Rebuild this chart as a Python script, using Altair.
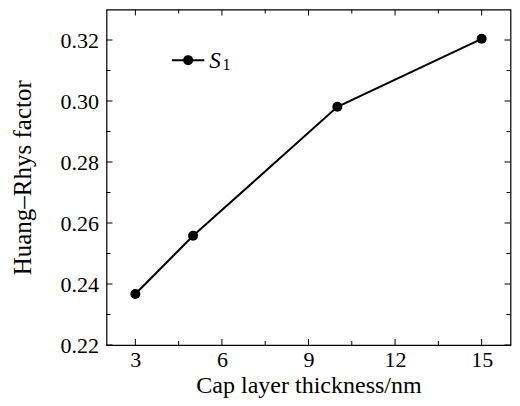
import altair as alt
import pandas as pd

# data
thickness = [3, 5, 10, 15]
hr_factor = [0.2367, 0.2558, 0.2981, 0.3204]

x_major = [3, 6, 9, 12, 15]
x_minor = [4.5, 7.5, 10.5, 13.5]
y_major = [0.22, 0.24, 0.26, 0.28, 0.30, 0.32]
y_minor = [0.23, 0.25, 0.27, 0.29, 0.31]

legend_label = "S"
legend_sub = "1"

W = 404
H = 335.5
FONT = "Liberation Serif"
MAJ = 6
MIN = 4

xs = alt.Scale(domain=[2, 16], nice=False, zero=False)
ys = alt.Scale(domain=[0.22, 0.33], nice=False, zero=False)

XTITLE = "Cap layer thickness/nm"
YTITLE = "Huang–Rhys factor"

xaxis = alt.Axis(values=x_major, format="d", grid=False, domain=False,
                 ticks=False, tickSize=0, labelFont=FONT, labelFontSize=22,
                 labelColor="black", labelPadding=4, titleFont=FONT,
                 titleFontSize=24, titleFontWeight="normal", titleColor="black",
                 titlePadding=3)
yaxis = alt.Axis(values=y_major, format=".2f", grid=False, domain=False,
                 ticks=False, tickSize=0, labelFont=FONT, labelFontSize=22,
                 labelColor="black", labelPadding=8, titleFont=FONT,
                 titleFontSize=25, titleFontWeight="normal", titleColor="black",
                 titlePadding=25)


def X(f):
    return alt.X(f, type="quantitative", scale=xs, axis=xaxis, title=XTITLE)


def Y(f):
    return alt.Y(f, type="quantitative", scale=ys, axis=yaxis, title=YTITLE)


df = pd.DataFrame({"x": thickness, "y": hr_factor})

base = alt.Chart(df)
line = base.mark_line(color="black", strokeWidth=2).encode(x=X("x"), y=Y("y"))
pts = base.mark_circle(color="black", size=100, opacity=1).encode(x=X("x"), y=Y("y"))


def xticks(vals, length):
    d = pd.DataFrame({"v": vals})
    b = alt.Chart(d).mark_rule(color="black", strokeWidth=1).encode(
        x=X("v"), y=alt.value(H), y2=alt.value(H - length))
    t = alt.Chart(d).mark_rule(color="black", strokeWidth=1).encode(
        x=X("v"), y=alt.value(0), y2=alt.value(length))
    return [b, t]


def yticks(vals, length):
    d = pd.DataFrame({"v": vals})
    l = alt.Chart(d).mark_rule(color="black", strokeWidth=1).encode(
        y=Y("v"), x=alt.value(0), x2=alt.value(length))
    r = alt.Chart(d).mark_rule(color="black", strokeWidth=1).encode(
        y=Y("v"), x=alt.value(W), x2=alt.value(W - length))
    return [l, r]


# legend (annotation)
leg_y = 0.3134
leg_line_df = pd.DataFrame({"x": [4.265, 5.39], "y": [leg_y, leg_y]})
leg_line = alt.Chart(leg_line_df).mark_line(color="black", strokeWidth=2).encode(
    x=X("x"), y=Y("y"))
leg_pt = alt.Chart(pd.DataFrame({"x": [4.83], "y": [leg_y]})).mark_circle(
    color="black", size=100, opacity=1).encode(x=X("x"), y=Y("y"))
leg_s = alt.Chart(pd.DataFrame({"x": [5.56], "y": [leg_y], "t": [legend_label]})).mark_text(
    font=FONT, fontSize=23, fontStyle="italic", align="left", baseline="middle", color="black", dy=1
).encode(x=X("x"), y=Y("y"), text="t:N")
leg_1 = alt.Chart(pd.DataFrame({"x": [6.02], "y": [leg_y], "t": [legend_sub]})).mark_text(
    font=FONT, fontSize=16, align="left", baseline="middle", color="black", dy=5
).encode(x=X("x"), y=Y("y"), text="t:N")

layers = [line, pts] + xticks(x_major, MAJ) + xticks(x_minor, MIN) + yticks(y_major, MAJ) + \
    yticks(y_minor, MIN) + [leg_line, leg_pt, leg_s, leg_1]

chart = alt.layer(*layers).properties(
    width=W, height=H,
    background="white",
    autosize=alt.AutoSizeParams(type="none"),
    padding={"left": 98.5, "top": 1.5, "right": 1.5, "bottom": 53},
).configure_view(stroke="black", strokeWidth=1.2)

chart.save("out.html", embed_options={"renderer": "svg", "actions": False})
